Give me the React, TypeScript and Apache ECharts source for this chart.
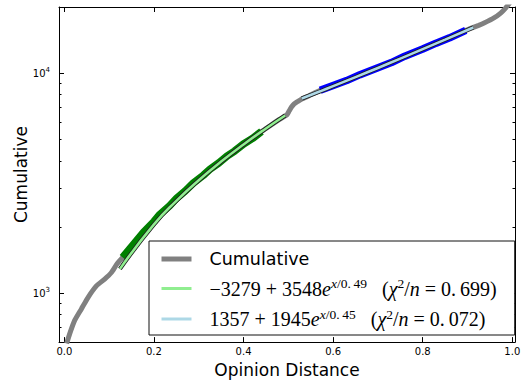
import React, { useEffect, useRef } from 'react';
import * as echarts from 'echarts';

// Cumulative curve (x = opinion distance, y = cumulative count)
const cumulativeX = [0.005, 0.012, 0.023, 0.038, 0.053, 0.072, 0.09, 0.105, 0.117, 0.13, 0.15, 0.176, 0.2, 0.213, 0.235, 0.251, 0.27, 0.288, 0.31, 0.325, 0.345, 0.363, 0.38, 0.4, 0.42, 0.44, 0.46, 0.48, 0.49, 0.497, 0.502, 0.507, 0.513, 0.52, 0.53, 0.545, 0.571, 0.6, 0.63, 0.66, 0.7, 0.73, 0.76, 0.8, 0.83, 0.86, 0.896, 0.913, 0.925, 0.937, 0.959, 0.974, 0.985, 0.995];
const cumulativeY = [591, 656, 753, 849, 959, 1083, 1160, 1243, 1355, 1455, 1630, 1885, 2120, 2280, 2500, 2710, 2920, 3170, 3435, 3660, 3915, 4205, 4430, 4770, 5055, 5430, 5790, 6170, 6350, 6480, 6750, 7020, 7260, 7420, 7640, 7880, 8360, 8800, 9260, 9850, 10600, 11180, 11950, 12880, 13700, 14480, 15650, 16150, 16500, 16900, 17830, 18770, 19770, 21000];

// Green fitted-range data
const greenX = [0.13, 0.15, 0.176, 0.2, 0.213, 0.235, 0.251, 0.27, 0.288, 0.31, 0.325, 0.345, 0.363, 0.38, 0.4, 0.42, 0.44];
const greenY = [1455, 1630, 1885, 2120, 2280, 2500, 2710, 2920, 3170, 3435, 3660, 3915, 4205, 4430, 4770, 5055, 5430];

// Green fit curve
const fitGreenX = [0.124, 0.2, 0.25, 0.3, 0.35, 0.4, 0.45, 0.493];
const fitGreenY = [1291, 2057, 2631, 3266, 3969, 4747, 5610, 6425];

// Blue fitted-range data
const blueX = [0.571, 0.6, 0.63, 0.66, 0.7, 0.73, 0.76, 0.8, 0.83, 0.86, 0.896];
const blueY = [8360, 8800, 9260, 9850, 10600, 11180, 11950, 12880, 13700, 14480, 15650];

// Blue fit curve
const fitBlueX = [0.53, 0.571, 0.6, 0.65, 0.7, 0.75, 0.8, 0.85, 0.913];
const fitBlueY = [7674, 8275, 8736, 9602, 10572, 11654, 12865, 14218, 16149];

const xTicks = [0, 0.2, 0.4, 0.6, 0.8, 1.0];
const yMajorTicks = [1000, 10000];
const yMinorTicks = [600, 700, 800, 900, 2000, 3000, 4000, 5000, 6000, 7000, 8000, 9000];

const nameCum = 'Cumulative';
const nameFit1 = '−3279 + 3548e^(x/0.49)  (χ²/n = 0.699)';
const nameFit2 = '1357 + 1945e^(x/0.45)  (χ²/n = 0.072)';

const zip = (xs: number[], ys: number[]) => xs.map((x, i) => [x, ys[i]]);

const SANS = 'DejaVu Sans';
const SERIF = 'Liberation Serif';

export default function App() {
  const ref = useRef<HTMLDivElement>(null);
  useEffect(() => {
    const chart = echarts.init(ref.current!, null, { renderer: 'svg' });
    const yBase = (position: string, ticks: number[], len: number, showLine: boolean) => ({
      type: 'log',
      logBase: 10,
      min: 600,
      max: 20000,
      position,
      splitLine: { show: false },
      axisLine: { show: showLine, onZero: false, lineStyle: { color: '#000', width: 1 } },
      axisTick: { show: true, inside: true, length: len, customValues: ticks, lineStyle: { color: '#000', width: 1 } },
      axisLabel: { show: false },
    });
    const xBase = (position: string) => ({
      type: 'value',
      min: -0.012,
      max: 1.006,
      position,
      splitLine: { show: false },
      axisLine: { show: true, onZero: false, lineStyle: { color: '#000', width: 1 } },
      axisTick: { show: true, inside: true, length: 5, customValues: xTicks, lineStyle: { color: '#000', width: 1 } },
      axisLabel: { show: false },
    });
    const serif = { fontFamily: SERIF, fontSize: 20, color: '#000', lineHeight: 24 };
    const sup = { fontFamily: SERIF, fontSize: 13.5, color: '#000', lineHeight: 14, verticalAlign: 'top' };
    const legendRich = {
      c: { fontFamily: SANS, fontSize: 17.5, color: '#000', lineHeight: 24 },
      r: { ...serif },
      i: { ...serif, fontStyle: 'italic' },
      s: { ...sup },
      si: { ...sup, fontStyle: 'italic' },
    };
    const option: any = {
      animation: false,
      backgroundColor: '#fff',
      grid: { left: 59, top: 7, width: 456, height: 338.5, containLabel: false },
      xAxis: [
        {
          ...xBase('bottom'),
          axisLabel: {
            show: true,
            customValues: xTicks,
            formatter: (v: number) => v.toFixed(1),
            fontFamily: SANS,
            fontSize: 10,
            color: '#000',
            margin: 4,
          },
          name: 'Opinion Distance',
          nameLocation: 'middle',
          nameGap: 15,
          nameTextStyle: { fontFamily: SANS, fontSize: 17, color: '#000' },
        },
        xBase('top'),
      ],
      yAxis: [
        {
          ...yBase('left', yMajorTicks, 5, true),
          axisLabel: {
            show: true,
            customValues: yMajorTicks,
            formatter: (v: number) => (v === 1000 ? '{b|10}{p|3}' : v === 10000 ? '{b|10}{p|4}' : ''),
            margin: 9,
            rich: {
              b: { fontFamily: SANS, fontSize: 10, color: '#000', lineHeight: 14 },
              p: { fontFamily: SANS, fontSize: 7, color: '#000', lineHeight: 10, verticalAlign: 'top' },
            },
          },
          name: 'Cumulative',
          nameLocation: 'middle',
          nameGap: 30,
          nameMoveOverlap: false,
          nameTextStyle: { fontFamily: SANS, fontSize: 17, color: '#000' },
        },
        yBase('left', yMinorTicks, 2.5, false),
        yBase('right', yMajorTicks, 5, true),
        yBase('right', yMinorTicks, 2.5, false),
      ],
      legend: {
        orient: 'vertical',
        left: 149,
        top: 241,
        padding: [9, 18, 6, 10],
        itemGap: 8.5,
        itemWidth: 30,
        itemHeight: 14,
        backgroundColor: '#fff',
        borderColor: '#111',
        borderWidth: 1,
        borderRadius: 0,
        itemStyle: { opacity: 0 },
        textStyle: { padding: [0, 0, 0, 13], rich: legendRich },
        data: [
          { name: nameCum, lineStyle: { width: 5 } },
          { name: nameFit1, lineStyle: { width: 3 } },
          { name: nameFit2, lineStyle: { width: 3 } },
        ],
        formatter: (name: string) => {
          if (name === nameCum) return '{c|Cumulative}';
          if (name === nameFit1)
            return '{r|−3279 + 3548}{i|e}{si|x}{s|/0.\u200949}{r|\u2002 (}{i|χ}{s|2}{r|/}{i|n}{r|\u2005=\u20050.\u2009699)}';
          return '{r|1357 + 1945}{i|e}{si|x}{s|/0.\u200945}{r|\u2002 (}{i|χ}{s|2}{r|/}{i|n}{r|\u2005=\u20050.\u2009072)}';
        },
      },
      series: [
        {
          name: nameCum,
          type: 'line',
          data: zip(cumulativeX, cumulativeY),
          symbol: 'none',
          smooth: 0.15,
          lineStyle: { color: '#808080', width: 5 },
          itemStyle: { color: '#808080' },
          clip: true,
        },
        {
          name: 'green data',
          type: 'line',
          data: zip(greenX, greenY),
          symbol: 'none',
          lineStyle: { color: '#008000', width: 7.5 },
          itemStyle: { color: '#008000' },
          clip: true,
        },
        {
          name: 'green fit outline',
          type: 'line',
          data: zip(fitGreenX, fitGreenY),
          symbol: 'none',
          smooth: true,
          lineStyle: { color: '#1e1e1e', width: 4.2 },
          itemStyle: { color: '#1e1e1e' },
        },
        {
          name: nameFit1,
          type: 'line',
          data: zip(fitGreenX, fitGreenY),
          symbol: 'none',
          smooth: true,
          lineStyle: { color: '#90ee90', width: 2.6 },
          itemStyle: { color: '#90ee90' },
        },
        {
          name: 'blue data',
          type: 'line',
          data: zip(blueX, blueY),
          symbol: 'none',
          lineStyle: { color: '#0000ff', width: 7.5 },
          itemStyle: { color: '#0000ff' },
        },
        {
          name: 'blue fit outline',
          type: 'line',
          data: zip(fitBlueX, fitBlueY),
          symbol: 'none',
          smooth: true,
          lineStyle: { color: '#1e1e1e', width: 4.2 },
          itemStyle: { color: '#1e1e1e' },
        },
        {
          name: nameFit2,
          type: 'line',
          data: zip(fitBlueX, fitBlueY),
          symbol: 'none',
          smooth: true,
          lineStyle: { color: '#add8e6', width: 2.6 },
          itemStyle: { color: '#add8e6' },
        },
      ],
    };
    chart.setOption(option);
    return () => chart.dispose();
  }, []);
  return <div ref={ref} style={{ position: 'absolute', left: 0, top: 0, width: 524, height: 383 }} />;
}
